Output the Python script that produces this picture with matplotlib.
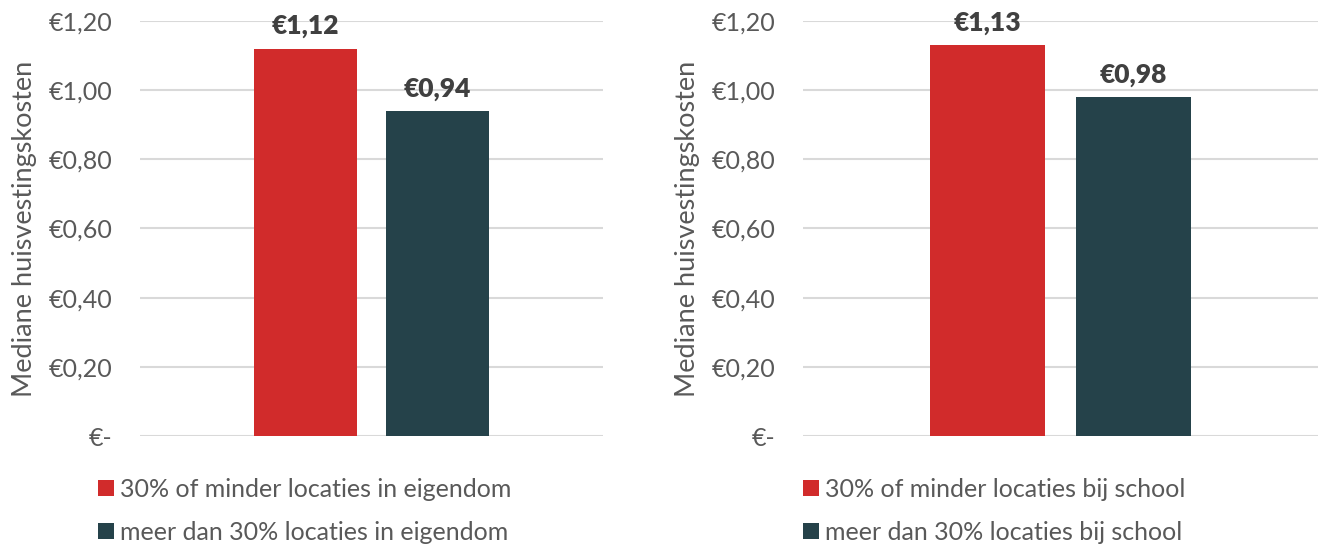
import matplotlib.pyplot as plt
from matplotlib.ticker import FuncFormatter

plt.rcParams['font.family'] = ['Lato', 'DejaVu Sans']

# data
left_labels = ['30% of minder locaties in eigendom', 'meer dan 30% locaties in eigendom']
left_values = [1.12, 0.94]
right_labels = ['30% of minder locaties bij school', 'meer dan 30% locaties bij school']
right_values = [1.13, 0.98]
yticks = [0, 0.2, 0.4, 0.6, 0.8, 1.0, 1.2]

colors = ['#D12B2B', '#25424A']
grey = '#595959'


def euro(v, pos=None):
    if abs(v) < 1e-9:
        return '€-'
    return '€' + f'{v:.2f}'.replace('.', ',')


def draw_panel(fig, rect, labels, values, legend_x):
    ax = fig.add_axes(rect)
    width = 0.222
    offsets = [-0.142, 0.142]
    bars = []
    for off, val, lab, col in zip(offsets, values, labels, colors):
        b = ax.bar(off, val, width=width, color=col, label=lab, zorder=3)
        bars.append(b)
        ax.text(off, val + 0.03, euro(val), ha='center', va='bottom',
                fontsize=19, fontweight='heavy', color='#404040')
    ax.set_xlim(-0.5, 0.5)
    ax.set_ylim(0, 1.2)
    ax.set_yticks(yticks)
    ax.yaxis.set_major_formatter(FuncFormatter(euro))
    ax.set_xticks([])
    ax.grid(axis='y', color='#D9D9D9', linewidth=1.5, zorder=0)
    for s in ax.spines.values():
        s.set_visible(False)
    ax.tick_params(axis='y', length=0, pad=20, labelsize=18, labelcolor=grey)
    ax.set_ylabel('Mediane huisvestingskosten', fontsize=19.5, color=grey, labelpad=8)
    fig.legend(handles=bars, loc='upper left', bbox_to_anchor=(legend_x, 0.129),
               frameon=False, fontsize=18, labelcolor=grey,
               handlelength=0.62, handleheight=0.62, handletextpad=0.25,
               labelspacing=0.8, borderaxespad=0, borderpad=0)
    return ax


fig = plt.figure(figsize=(13.22, 5.49), dpi=100)
draw_panel(fig, [140 / 1322, 1 - 436 / 549, 463 / 1322, 415 / 549],
           left_labels, left_values, 98 / 1322)
draw_panel(fig, [803 / 1322, 1 - 436 / 549, 515 / 1322, 415 / 549],
           right_labels, right_values, 803 / 1322)

fig.savefig('out.png', dpi=100)
